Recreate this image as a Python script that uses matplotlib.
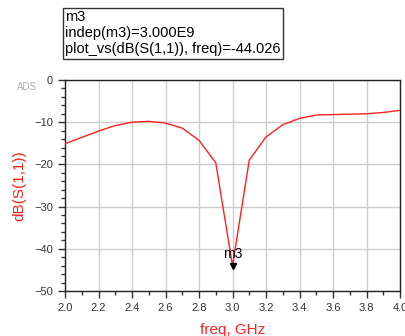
import numpy as np
import matplotlib.pyplot as plt
from matplotlib.ticker import MultipleLocator

plt.rcParams['font.family'] = ['Liberation Sans', 'DejaVu Sans']

# data
freq = [2.0, 2.1, 2.2, 2.3, 2.4, 2.5, 2.6, 2.7, 2.8, 2.9, 3.0,
        3.1, 3.2, 3.3, 3.4, 3.5, 3.6, 3.7, 3.8, 3.9, 4.0]
s11_db = [-15.1, -13.6, -12.1, -10.8, -10.0, -9.8, -10.2, -11.4, -14.3, -19.6, -44.026,
          -19.0, -13.5, -10.6, -9.1, -8.3, -8.2, -8.1, -8.0, -7.7, -7.2]
marker_f = 3.0
marker_val = -44.026

fig = plt.figure(figsize=(4.05, 3.36), dpi=100)
ax = fig.add_axes([65/405, 45/336, 335/405, 211/336])

ax.plot(freq, s11_db, color='#ff2020', lw=1.0, zorder=3)
ax.plot([marker_f], [marker_val], marker='v', color='black', ms=5, zorder=4)
ax.text(marker_f, marker_val + 1.2, 'm3', ha='center', va='bottom', fontsize=10, zorder=5)

ax.set_xlim(2.0, 4.0)
ax.set_ylim(-50, 0)
ax.xaxis.set_major_locator(MultipleLocator(0.2))
ax.xaxis.set_minor_locator(MultipleLocator(0.1))
ax.yaxis.set_major_locator(MultipleLocator(10))
ax.yaxis.set_minor_locator(MultipleLocator(2))
ax.xaxis.set_major_formatter(plt.FuncFormatter(lambda v, p: f'{v:.1f}'))
ax.tick_params(which='major', direction='out', length=5, width=1, labelsize=8, colors='#333333')
ax.tick_params(which='minor', direction='out', length=3, width=1, colors='#333333')
ax.grid(True, which='major', color='#cccccc', lw=1)
for s in ax.spines.values():
    s.set_color('#222222')
    s.set_linewidth(1)

ax.set_xlabel('freq, GHz', color='#ff2020', fontsize=11, labelpad=7)
ax.set_ylabel('dB(S(1,1))', color='#ff2020', fontsize=11, labelpad=6)

fig.text(27/405, 1 - 87/336, 'ADS', color='#aaaaaa', fontsize=7, ha='center', va='center')

fig.text(65/405, 1 - 10/336,
         'm3\nindep(m3)=3.000E9\nplot_vs(dB(S(1,1)), freq)=-44.026',
         fontsize=10.5, va='top', ha='left', linespacing=1.2,
         bbox=dict(boxstyle='square,pad=0.15', fc='white', ec='#333333', lw=1))

plt.savefig('out.png', dpi=100)
